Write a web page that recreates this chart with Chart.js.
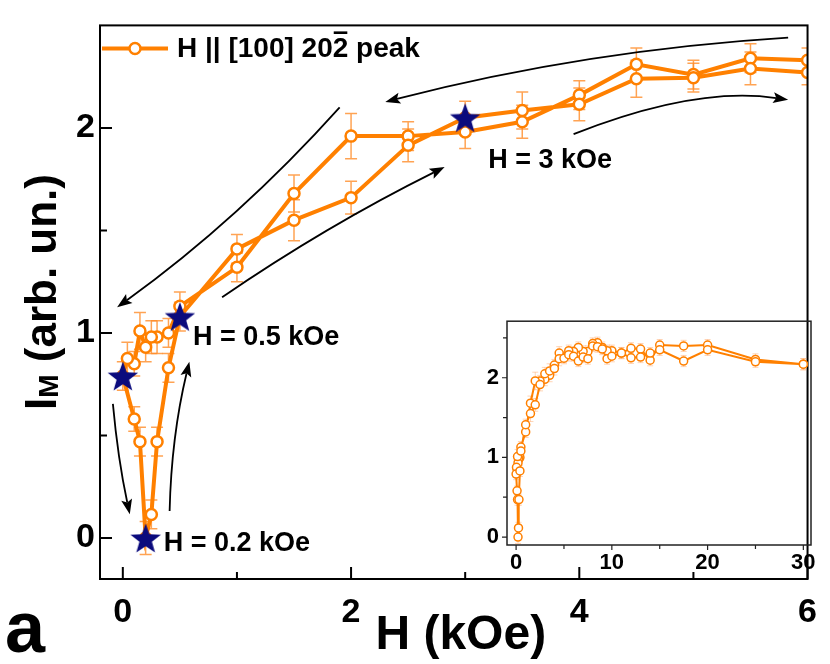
<!DOCTYPE html>
<html>
<head>
<meta charset="utf-8">
<script src="https://cdn.jsdelivr.net/npm/chart.js@4.4.1/dist/chart.umd.min.js"></script>
<style>
  html, body { margin: 0; padding: 0; background: #fff; }
  #wrap { position: relative; width: 830px; height: 664px; }
  #main { position: absolute; left: 0; top: 0; }
  #inset { position: absolute; left: 440px; top: 300px; }
</style>
</head>
<body>
<div id="wrap">
  <canvas id="main" width="830" height="664"></canvas>
  <canvas id="inset" width="390" height="290"></canvas>
</div>
<script>
// field sweep 6 kOe -> 0 (decreasing branch)
const fieldDown = [6, 5.5, 5, 4.5, 4, 3.5, 3, 2.5, 2, 1.5, 1, 0.5, 0.4, 0.3, 0.25, 0.2, 0.15, 0.1, 0.04, 0];
const intensityDown = [2.33, 2.34, 2.26, 2.31, 2.16, 2.03, 1.98, 1.96, 1.96, 1.68, 1.32, 1.13, 1.00, 0.98, 0.98, 0.93, 1.01, 0.85, 0.875, 0.79];
const errorDown = [0.06, 0.07, 0.07, 0.08, 0.07, 0.08, 0.08, 0.07, 0.11, 0.09, 0.07, 0.07, 0.07, 0.08, 0.08, 0.07, 0.09, 0.06, 0.08, 0.07];
// field sweep 0 -> 6 kOe (increasing branch)
const fieldUp = [0.1, 0.15, 0.2, 0.25, 0.3, 0.4, 0.5, 1, 1.5, 2, 2.5, 3, 3.5, 4, 4.5, 5, 5.5, 6];
const intensityUp = [0.58, 0.47, 0.0, 0.115, 0.47, 0.83, 1.08, 1.41, 1.55, 1.66, 1.915, 2.05, 2.085, 2.115, 2.24, 2.245, 2.29, 2.27];
const errorUp = [0.06, 0.07, 0.08, 0.07, 0.07, 0.07, 0.07, 0.07, 0.1, 0.08, 0.08, 0.08, 0.09, 0.08, 0.09, 0.07, 0.08, 0.06];
// high field part, only in the inset
const fieldHighDown = [30, 25, 20, 17.5, 15, 14, 13, 12, 11, 10, 9.5, 9, 8.5, 8, 7.5, 7, 6.5];
const intensityHighDown = [2.17, 2.23, 2.41, 2.40, 2.41, 2.22, 2.36, 2.37, 2.31, 2.34, 2.34, 2.38, 2.44, 2.43, 2.33, 2.33, 2.38];
const fieldHighUp = [6.5, 7, 7.5, 8, 8.5, 9, 9.5, 10, 11, 12, 13, 14, 15, 17.5, 20, 25, 30];
const intensityHighUp = [2.21, 2.26, 2.24, 2.40, 2.39, 2.36, 2.24, 2.27, 2.31, 2.25, 2.26, 2.31, 2.35, 2.21, 2.35, 2.20, 2.17];
const errorHigh = 0.07;

// highlighted fields (stars)
const starField = [0, 0.2, 0.5, 3];
const starIntensity = [0.79, 0, 1.08, 2.05];
const starLabels = ['', 'H = 0.2 kOe', 'H = 0.5 kOe', 'H = 3 kOe'];

// ticks
const xTicks = [0, 2, 4, 6];
const xMinor = [1, 3, 5];
const yTicks = [0, 1, 2];
const yMinor = [0.5, 1.5];
const insetXTicks = [0, 10, 20, 30];
const insetXMinor = [5, 15, 25];
const insetYTicks = [0, 1, 2];
const insetYMinor = [0.5, 1.5, 2.5];

const FONT = '"Liberation Sans", Arial, Helvetica, sans-serif';
const ORANGE = '#ff8000';
const NAVY = '#0b0b7d';

const toPoints = (xs, ys) => xs.map((x, i) => ({ x: x, y: ys[i] }));
const loopPoints = toPoints(fieldDown, intensityDown).concat(toPoints(fieldUp, intensityUp));
const loopErrors = errorDown.concat(errorUp);
const insetPoints = toPoints(fieldHighDown, intensityHighDown)
    .concat(loopPoints)
    .concat(toPoints(fieldHighUp, intensityHighUp));
const insetErrors = fieldHighDown.map(() => errorHigh).concat(loopErrors).concat(fieldHighUp.map(() => errorHigh));
const starPoints = toPoints(starField, starIntensity);

// arrows, in data units: start, control point, tip
const arrows = [
    { from: [5.83, 2.44], ctrl: [4.07, 2.38], to: [2.30, 2.127] },
    { from: [1.90, 2.10], ctrl: [1.02, 1.555], to: [-0.05, 1.125] },
    { from: [3.95, 1.97], ctrl: [5.02, 2.205], to: [5.83, 2.137] },
    { from: [0.87, 1.174], ctrl: [1.78, 1.521], to: [2.82, 1.809] },
    { from: [-0.087, 0.654], ctrl: [-0.043, 0.386], to: [0.061, 0.116] },
    { from: [0.41, 0.132], ctrl: [0.426, 0.494], to: [0.583, 0.86] }
];

function makeStar(r) {
    const c = document.createElement('canvas');
    const s = Math.ceil(2 * r + 2);
    c.width = s;
    c.height = s;
    const g = c.getContext('2d');
    g.beginPath();
    for (let i = 0; i < 10; i++) {
        const rad = i % 2 === 0 ? r : r * 0.41;
        const a = -Math.PI / 2 + i * Math.PI / 5;
        const px = s / 2 + rad * Math.cos(a);
        const py = s / 2 + rad * Math.sin(a) + r * 0.1;
        if (i === 0) g.moveTo(px, py); else g.lineTo(px, py);
    }
    g.closePath();
    g.fillStyle = NAVY;
    g.fill();
    return c;
}

const errorBars = {
    id: 'errorBars',
    beforeDatasetsDraw(chart, args, opts) {
        const { ctx, chartArea, scales: { x, y } } = chart;
        const ds = chart.data.datasets[0];
        ctx.save();
        ctx.beginPath();
        ctx.rect(chartArea.left, chartArea.top, chartArea.right - chartArea.left, chartArea.bottom - chartArea.top);
        ctx.clip();
        ctx.strokeStyle = opts.color;
        ctx.lineWidth = opts.width;
        ds.data.forEach((p, i) => {
            const e = ds.errors[i];
            const px = x.getPixelForValue(p.x);
            const top = y.getPixelForValue(p.y + e);
            const bot = y.getPixelForValue(p.y - e);
            ctx.beginPath();
            ctx.moveTo(px, top); ctx.lineTo(px, bot);
            ctx.moveTo(px - opts.cap, top); ctx.lineTo(px + opts.cap, top);
            ctx.moveTo(px - opts.cap, bot); ctx.lineTo(px + opts.cap, bot);
            ctx.stroke();
        });
        ctx.restore();
    }
};

// box and tick marks (dir = 1 inward, -1 outward)
function drawFrame(chart, o) {
    const { ctx, chartArea: a, scales: { x, y } } = chart;
    ctx.save();
    ctx.strokeStyle = o.color;
    ctx.lineWidth = o.width;
    ctx.strokeRect(a.left, a.top, a.right - a.left, a.bottom - a.top);
    ctx.lineWidth = o.tickWidth;
    ctx.beginPath();
    const tx = (v, len) => {
        const px = x.getPixelForValue(v);
        ctx.moveTo(px, a.bottom);
        ctx.lineTo(px, a.bottom - o.dir * len);
    };
    const ty = (v, len) => {
        const py = y.getPixelForValue(v);
        ctx.moveTo(a.left, py);
        ctx.lineTo(a.left + o.dir * len, py);
    };
    o.xMajor.forEach(v => tx(v, o.major));
    o.xMinor.forEach(v => tx(v, o.minor));
    o.yMajor.forEach(v => ty(v, o.major));
    o.yMinor.forEach(v => ty(v, o.minor));
    ctx.stroke();
    ctx.restore();
}

function drawArrow(ctx, x, y, arr) {
    const s = [x.getPixelForValue(arr.from[0]), y.getPixelForValue(arr.from[1])];
    const c = [x.getPixelForValue(arr.ctrl[0]), y.getPixelForValue(arr.ctrl[1])];
    const t = [x.getPixelForValue(arr.to[0]), y.getPixelForValue(arr.to[1])];
    const ang = Math.atan2(t[1] - c[1], t[0] - c[0]);
    const len = 15, half = 5.5;
    const bx = t[0] - len * 0.8 * Math.cos(ang);
    const by = t[1] - len * 0.8 * Math.sin(ang);
    ctx.beginPath();
    ctx.moveTo(s[0], s[1]);
    ctx.quadraticCurveTo(c[0], c[1], bx, by);
    ctx.stroke();
    ctx.beginPath();
    ctx.moveTo(t[0], t[1]);
    ctx.lineTo(t[0] - len * Math.cos(ang) + half * Math.sin(ang), t[1] - len * Math.sin(ang) - half * Math.cos(ang));
    ctx.lineTo(bx, by);
    ctx.lineTo(t[0] - len * Math.cos(ang) - half * Math.sin(ang), t[1] - len * Math.sin(ang) + half * Math.cos(ang));
    ctx.closePath();
    ctx.fill();
}

const mainDecor = {
    id: 'mainDecor',
    afterDraw(chart) {
        const { ctx, chartArea: a, scales: { x, y } } = chart;
        drawFrame(chart, { color: '#000', width: 2, tickWidth: 2, dir: 1, major: 12, minor: 7,
            xMajor: xTicks, xMinor: xMinor, yMajor: yTicks, yMinor: yMinor });

        // arrows
        ctx.save();
        ctx.strokeStyle = '#000';
        ctx.fillStyle = '#000';
        ctx.lineWidth = 1.8;
        arrows.forEach(arr => drawArrow(ctx, x, y, arr));
        ctx.restore();

        // star labels
        const offs = [[0, 0], [18, 6], [13, 21], [23, 43]];
        ctx.save();
        ctx.fillStyle = '#000';
        ctx.font = 'bold 27px ' + FONT;
        ctx.textBaseline = 'middle';
        starLabels.forEach((txt, i) => {
            if (!txt) return;
            ctx.fillText(txt, x.getPixelForValue(starField[i]) + offs[i][0], y.getPixelForValue(starIntensity[i]) + offs[i][1]);
        });
        ctx.restore();

        // legend
        ctx.save();
        const ly = a.top + 23;
        ctx.strokeStyle = ORANGE;
        ctx.lineWidth = 4;
        ctx.beginPath();
        ctx.moveTo(a.left + 2, ly);
        ctx.lineTo(a.left + 68, ly);
        ctx.stroke();
        ctx.fillStyle = '#fff';
        ctx.lineWidth = 2.5;
        ctx.beginPath();
        ctx.arc(a.left + 35, ly, 5.5, 0, Math.PI * 2);
        ctx.fill();
        ctx.stroke();
        ctx.fillStyle = '#000';
        ctx.font = 'bold 28px ' + FONT;
        ctx.textBaseline = 'alphabetic';
        let tx = a.left + 77;
        const base = ly + 9;
        const part1 = 'H || [100] 20';
        ctx.fillText(part1, tx, base);
        tx += ctx.measureText(part1).width;
        const w2 = ctx.measureText('2').width;
        ctx.fillText('2', tx, base);
        ctx.fillRect(tx + 1, base - 26, w2 - 2, 2.6);
        tx += w2;
        ctx.fillText(' peak', tx, base);
        ctx.restore();

        // axis titles
        ctx.save();
        ctx.fillStyle = '#000';
        ctx.textBaseline = 'alphabetic';
        ctx.font = 'bold 48px ' + FONT;
        ctx.textAlign = 'center';
        ctx.fillText('H (kOe)', (a.left + a.right) / 2 + 7, 649);
        ctx.textAlign = 'left';
        ctx.font = 'bold 72px ' + FONT;
        ctx.fillText('a', 5, 652);
        ctx.translate(56, 410);
        ctx.rotate(-Math.PI / 2);
        ctx.font = 'bold 44px ' + FONT;
        ctx.fillText('I', 0, 0);
        let w = ctx.measureText('I').width;
        ctx.font = 'bold 28px ' + FONT;
        ctx.fillText('M', w, 2);
        w += ctx.measureText('M').width;
        ctx.font = 'bold 44px ' + FONT;
        ctx.fillText(' (arb. un.)', w, 0);
        ctx.restore();
    }
};

const insetDecor = {
    id: 'insetDecor',
    afterDraw(chart) {
        drawFrame(chart, { color: '#222', width: 1.5, tickWidth: 1.2, dir: -1, major: 5, minor: 4,
            xMajor: insetXTicks, xMinor: insetXMinor, yMajor: insetYTicks, yMinor: insetYMinor });
    }
};

const starImg = makeStar(16);

new Chart(document.getElementById('main'), {
    type: 'line',
    data: {
        datasets: [
            {
                data: loopPoints,
                errors: loopErrors,
                borderColor: ORANGE,
                borderWidth: 4,
                pointRadius: 5.5,
                pointBorderWidth: 2.5,
                pointBackgroundColor: '#fff',
                pointBorderColor: ORANGE,
                tension: 0,
                order: 1
            },
            {
                data: starPoints,
                showLine: false,
                pointStyle: starImg,
                pointRadius: 16,
                order: 0
            }
        ]
    },
    options: {
        responsive: false,
        animation: false,
        devicePixelRatio: 1,
        layout: { padding: { top: 25, right: 17, left: 0, bottom: 0 } },
        plugins: {
            legend: { display: false },
            tooltip: { enabled: false },
            errorBars: { color: 'rgba(255,140,40,0.8)', width: 1.5, cap: 6 }
        },
        scales: {
            x: {
                type: 'linear', min: -0.2, max: 6,
                grid: { display: false, drawTicks: false }, border: { display: false },
                afterBuildTicks: s => { s.ticks = xTicks.map(v => ({ value: v })); },
                afterFit: s => { s.height = 85; },
                ticks: { color: '#000', padding: 13, maxRotation: 0, autoSkip: false,
                    font: { family: FONT, size: 34, weight: 'bold' } }
            },
            y: {
                type: 'linear', min: -0.2, max: 2.5,
                grid: { display: false, drawTicks: false }, border: { display: false },
                afterBuildTicks: s => { s.ticks = yTicks.map(v => ({ value: v })); },
                afterFit: s => { s.width = 100; },
                ticks: { color: '#000', padding: 5, autoSkip: false,
                    font: { family: FONT, size: 34, weight: 'bold' } }
            }
        }
    },
    plugins: [errorBars, mainDecor]
});

new Chart(document.getElementById('inset'), {
    type: 'line',
    data: {
        datasets: [{
            data: insetPoints,
            errors: insetErrors,
            borderColor: ORANGE,
            borderWidth: 2,
            pointRadius: 4,
            pointBorderWidth: 1.5,
            pointBackgroundColor: '#fff',
            pointBorderColor: ORANGE,
            tension: 0
        }]
    },
    options: {
        responsive: false,
        animation: false,
        devicePixelRatio: 1,
        layout: { padding: { top: 16, right: 19, left: 0, bottom: 0 } },
        plugins: {
            legend: { display: false },
            tooltip: { enabled: false },
            errorBars: { color: 'rgba(255,160,90,0.45)', width: 1, cap: 3 }
        },
        scales: {
            x: {
                type: 'linear', min: -0.95, max: 30.8,
                grid: { display: false, drawTicks: false }, border: { display: false },
                afterBuildTicks: s => { s.ticks = insetXTicks.map(v => ({ value: v })); },
                afterFit: s => { s.height = 45; },
                ticks: { color: '#000', padding: 5, maxRotation: 0, autoSkip: false,
                    font: { family: FONT, size: 22, weight: 'bold' } }
            },
            y: {
                type: 'linear', min: -0.1, max: 2.71,
                grid: { display: false, drawTicks: false }, border: { display: false },
                afterBuildTicks: s => { s.ticks = insetYTicks.map(v => ({ value: v })); },
                afterFit: s => { s.width = 67; },
                ticks: { color: '#000', padding: 8, autoSkip: false,
                    font: { family: FONT, size: 22, weight: 'bold' } }
            }
        }
    },
    plugins: [errorBars, insetDecor]
});
</script>
</body>
</html>
